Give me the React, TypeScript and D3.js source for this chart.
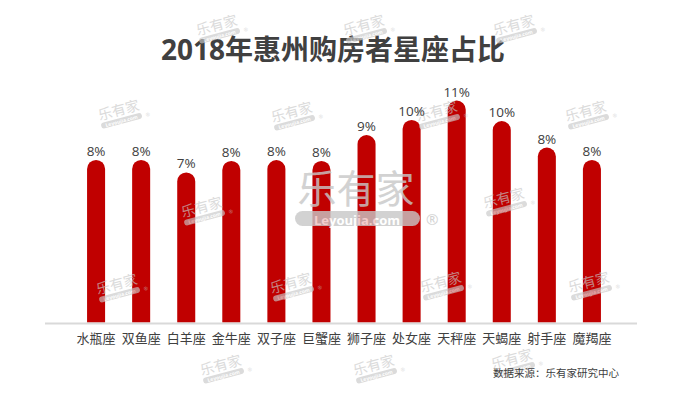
import React from 'react';
import * as d3 from 'd3';

const signs = ['水瓶座', '双鱼座', '白羊座', '金牛座', '双子座', '巨蟹座', '狮子座', '处女座', '天秤座', '天蝎座', '射手座', '魔羯座'];
const shares = [8.05, 8.05, 7.43, 8.0, 8.04, 8.0, 9.28, 10.03, 10.99, 9.97, 8.66, 8.05];
const shareLabels = ['8%', '8%', '7%', '8%', '8%', '8%', '9%', '10%', '11%', '10%', '8%', '8%'];
const title = '2018年惠州购房者星座占比';
const source = '数据来源：乐有家研究中心';

// small watermark spots [x, y]
const marks: [number, number][] = [
  [218, 30], [365, 30], [515, 30],
  [120, 115], [293, 117], [438, 116], [587, 116],
  [203, 212], [505, 203],
  [118, 289], [292, 288], [442, 287], [590, 287],
  [222, 370], [375, 370], [513, 364],
];

const W = 696;
const H = 407;
const base = 322.5;
const font = '"Open Sans", "Noto Sans CJK SC", sans-serif';
const wmFill = '#c8c8c8';

function SmallMark({ x, y }: { x: number; y: number }) {
  return (
    <g transform={`translate(${x},${y}) rotate(-15)`} opacity={0.65}>
      <text textAnchor="middle" y={0} fontSize={14} fill={wmFill} fontFamily={font}>乐有家</text>
      <rect x={-21} y={3} width={42} height={6} rx={3} fill={wmFill} />
      <text textAnchor="middle" y={8} fontSize={5} fontWeight="bold" fill="#fff" fontFamily={font}>Leyoujia.com</text>
      <text x={25} y={8.5} fontSize={5} fill={wmFill} fontFamily={font}>®</text>
    </g>
  );
}

export default function App() {
  const x = d3.scaleBand<string>()
    .domain(signs)
    .range([51, 637])
    .paddingInner(0.6)
    .paddingOuter(0.8);
  const y = d3.scaleLinear().domain([0, 12]).range([base, base - 12 * 20.2]);
  const bw = x.bandwidth();
  const r = bw / 2;

  const barPath = (v: number, c: string) => {
    const p = d3.path();
    const x0 = x(c)!;
    const top = y(v);
    p.moveTo(x0, base);
    p.lineTo(x0, top + r);
    p.arc(x0 + r, top + r, r, Math.PI, 0);
    p.lineTo(x0 + bw, base);
    p.closePath();
    return p.toString();
  };

  return (
    <svg width={W} height={H} style={{ position: 'absolute', left: 0, top: 0, background: '#fff' }}>
      <text x={333} y={60} textAnchor="middle" fontSize={28} fontWeight="bold" fill="#404040" fontFamily={font}>
        {title}
      </text>

      {signs.map((c, i) => (
        <path key={c} d={barPath(shares[i], c)} fill="#c00000" />
      ))}

      <line x1={45} x2={637} y1={base + 1} y2={base + 1} stroke="#d9d9d9" strokeWidth={2} />

      {/* watermarks */}
      {marks.map(([mx, my], i) => <SmallMark key={i} x={mx} y={my} />)}
      <g opacity={0.8}>
        <text x={356} y={203} textAnchor="middle" fontSize={39} fill={wmFill} fontFamily={font}>乐有家</text>
        <rect x={295} y={211} width={125} height={15} rx={7.5} fill={wmFill} />
        <text x={357} y={224.5} textAnchor="middle" fontSize={13} fontWeight="bold" fill="#fff" fontFamily={font}>Leyoujia.com</text>
        <text x={426} y={225} fontSize={15} fill={wmFill} fontFamily={font}>®</text>
      </g>

      {signs.map((c, i) => (
        <text key={c} x={x(c)! + r} y={y(shares[i]) - 4} textAnchor="middle" fontSize={13.5} fill="#404040" fontFamily={font}>
          {shareLabels[i]}
        </text>
      ))}

      {signs.map((c) => (
        <text key={c} x={x(c)! + r} y={343} textAnchor="middle" fontSize={13} fill="#404040" fontFamily={font}>
          {c}
        </text>
      ))}

      <text x={493} y={377} fontSize={10.5} fill="#404040" fontFamily={font}>{source}</text>
    </svg>
  );
}
